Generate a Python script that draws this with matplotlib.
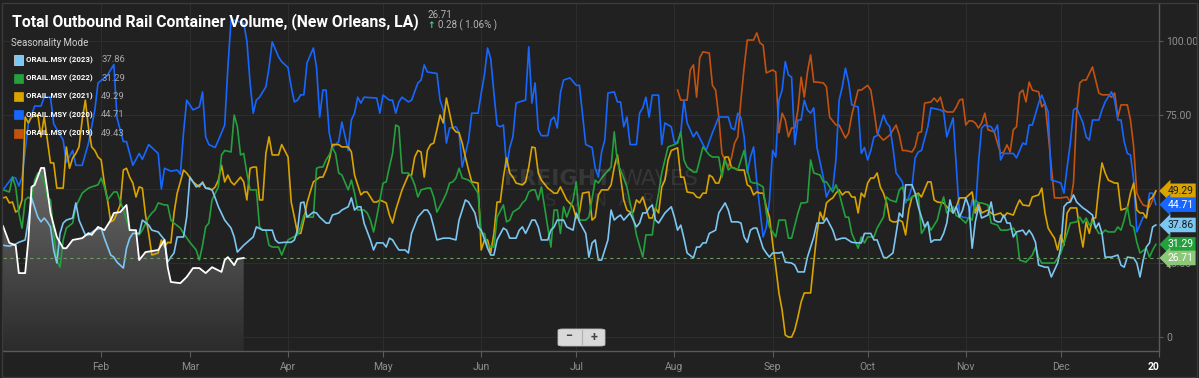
import numpy as np
import matplotlib
matplotlib.use("Agg")
import matplotlib.pyplot as plt
from matplotlib.patches import Rectangle, FancyBboxPatch, Polygon
from matplotlib.colors import LinearSegmentedColormap

plt.rcParams['font.family'] = ['Roboto', 'DejaVu Sans']

# (day of year, value)
s2019 = [(213,83.4),(214,80),(216,80),(217,90.2),(218,91.9),(219,81),(220,94.3),(221,96.3),(223,95.9),(224,85),(225,83.4),(226,74.3),(227,62),(229,57.4),(230,60.5),(231,65.5),(232,67.6),(233,80),(234,91),(235,100.3),(237,100.3),(238,102.7),(239,99.3),(240,98.6),(241,89.2),(243,90.2),(244,89.5),(245,69),(246,75.6),(247,73.3),(248,67.6),(249,70.6),(250,70.6),(251,76.7),(252,87.8),(253,81),(254,89.5),(255,95.3),(256,86.1),(257,86.1),(259,85.8),(260,84.5),(261,74.3),(263,71.6),(264,71.6),(266,67.2),(267,68.9),(268,75),(270,83.4),(271,83.4),(273,85),(274,83.4),(275,76.7),(276,69),(277,67.6),(278,66.5),(280,68.2),(282,71.6),(283,68.2),(284,63),(285,63),(287,62.5),(288,64.2),(289,69),(290,69.3),(291,79),(293,79.4),(294,80.7),(295,79.4),(296,81),(297,76.7),(298,76),(300,76),(301,77.7),(302,80),(303,80.4),(304,71.6),(305,73),(306,73),(307,72.3),(308,70.6),(309,72.3),(310,75.6),(311,70),(313,69.3),(314,65.5),(315,62),(316,62.5),(317,64.9),(318,62.5),(319,70),(320,71),(321,82.4),(322,83.4),(323,79.4),(324,86.1),(325,83.4),(327,82.8),(328,77.7),(329,79),(330,68.9),(331,57.4),(332,47),(334,47),(336,47.3),(337,45.6),(338,52),(339,75.6),(340,85.8),(341,86.8),(342,86.8),(344,91.2),(345,86.8),(346,82.4),(347,81.8),(349,81.8),(350,81),(351,82.4),(352,74.3),(353,78.4),(355,78.4),(356,73.3),(357,64.2),(358,48.6),(359,46.3),(360,44.6),(362,43.9),(363,46.3),(364,49.43)]

s2020 = [(0,49.7),(3,54),(4,53.7),(5,51),(6,54),(8,72),(10,78),(12,78),(13,81),(15,81),(16,72),(19,66.5),(20,59),(22,63),(23,58),(25,58),(27,65.5),(29,76.7),(30,85.8),(32,87.5),(33,88.5),(35,92),(36,74),(38,66),(39,66),(41,58),(43,62),(44,60),(46,65),(49,62),(50,50),(51,57),(53,56),(55,56.4),(56,55),(57,69),(58,80),(60,76.7),(62,77.7),(63,82.8),(64,67.6),(65,65),(67,64),(69,69),(70,71.6),(71,91),(72,107),(73,107),(76,106),(77,100),(78,86),(79,75.6),(80,80),(81,81),(83,84.5),(84,91),(85,99.7),(87,94.6),(88,93),(90,91),(91,84.5),(92,79.4),(93,80),(94,81.8),(95,81.8),(96,92.6),(98,97.6),(99,91),(100,74.3),(101,83.4),(102,83.4),(103,69),(104,64),(106,66),(107,72.6),(109,63),(110,73.3),(111,75.6),(112,81),(113,79),(114,81),(118,80.7),(119,75.6),(120,81.7),(122,80),(123,80),(124,75.6),(125,79.4),(126,81),(128,79.4),(129,80),(131,85.8),(132,86.8),(133,91.9),(134,89.5),(137,89),(138,80),(139,76.7),(140,65.5),(141,70.6),(143,71),(144,69),(145,57.4),(147,66.5),(148,75.6),(150,75.6),(151,82.4),(152,88.5),(153,97.6),(154,94),(155,82.4),(156,71.6),(157,71),(158,71.6),(159,57.4),(160,64),(161,67.6),(162,79),(163,79.4),(165,80),(166,98),(167,79),(168,85.8),(169,70),(170,68),(172,68),(173,73.3),(174,74.3),(175,70.6),(176,82.4),(177,86.8),(179,87.5),(181,85),(182,85),(184,65),(186,64),(187,57),(188,54),(189,62.5),(190,66.5),(191,82.4),(193,82.8),(194,79.4),(195,79.4),(196,71),(197,74.3),(198,65),(200,65),(201,75.6),(202,77.4),(203,81),(204,74.3),(205,81.7),(207,81.7),(208,65),(209,72.3),(211,71),(212,65.5),(213,66),(214,69),(215,80),(216,72.3),(218,67.6),(219,69.3),(220,67.2),(222,63),(224,69),(226,74.3),(229,74.3),(230,70.6),(231,70),(232,75.6),(233,74),(234,67.6),(235,55.4),(236,60.8),(237,64.2),(238,52.4),(239,43),(240,33.8),(241,37),(242,46),(243,63),(244,60.8),(245,80),(246,83.4),(247,93),(248,88.5),(249,87.8),(250,65),(251,73.3),(252,73.3),(253,80),(254,76.7),(255,75.6),(256,77.4),(257,64),(259,54),(260,47.3),(261,49.7),(262,50.3),(263,60),(264,80),(265,84.5),(266,90.8),(267,86),(268,78.4),(270,77.7),(271,62),(272,64),(273,59.8),(274,63),(275,67.6),(276,68),(278,75),(279,72.3),(280,71),(281,64),(282,55.4),(284,52.4),(285,45.3),(286,47.3),(287,50.7),(288,60.5),(289,62.5),(290,63),(292,71),(293,77.4),(296,76.7),(297,76),(298,67.6),(300,74),(301,57.4),(302,41.2),(303,40.5),(305,40.2),(306,46.3),(307,41.9),(308,58.8),(309,70.6),(310,71.6),(312,71),(313,69.3),(314,71.6),(315,59.8),(316,62),(319,62),(320,60.5),(322,65.5),(323,65),(324,71.6),(325,71.6),(327,79),(328,81.7),(330,76),(331,53),(333,52.4),(334,52),(335,48.6),(336,57.4),(337,65.5),(338,76.7),(339,77.4),(341,72.3),(342,67.6),(343,66.5),(344,73.3),(346,73.3),(347,76.7),(348,79.4),(350,82.8),(351,80),(352,73.3),(353,73.3),(354,66),(355,62),(356,61.5),(357,53),(358,35.5),(360,40.5),(361,40.5),(362,48.6),(363,48.6),(364,44.71)]

s2021 = [(0,47),(1,47.3),(2,45.3),(3,45.6),(4,42.2),(5,42.9),(6,46.3),(7,74.3),(8,72.3),(9,74.3),(11,75),(12,67.6),(13,74.3),(14,66.5),(15,58.8),(16,58.8),(17,50.3),(19,50.3),(20,64.2),(21,57),(22,60.5),(23,62),(24,64.2),(25,73.3),(26,80),(27,70.6),(28,64.2),(29,63),(30,60.8),(31,59.8),(32,52),(33,46.3),(34,38.9),(35,39.5),(36,41.9),(37,44.6),(38,56.4),(39,57),(40,54),(41,52),(42,47.3),(43,50.7),(44,50.3),(45,41.2),(46,35),(47,27.7),(49,28.4),(50,32.8),(51,30.4),(52,32),(53,31.8),(54,41.9),(55,48.6),(56,52.4),(57,56.4),(58,55.4),(60,52.4),(62,50.7),(63,52.4),(64,50.3),(65,50.3),(66,49.7),(67,50.7),(68,53),(69,58),(70,52.4),(71,54.7),(72,52.4),(73,51.4),(75,54),(76,52.4),(77,46.3),(78,57),(79,57.4),(80,57.4),(81,46.3),(82,46.3),(83,62),(84,67.6),(85,61.5),(87,61.5),(88,65),(90,60.8),(91,45.6),(92,40.5),(93,35),(94,35),(95,39.5),(96,45.3),(97,49),(98,52.4),(100,54),(101,54),(102,56.4),(103,59.8),(104,65),(106,65),(107,64.2),(109,64.2),(110,62.5),(111,54.7),(112,51.4),(113,48),(114,49),(115,49),(116,47.3),(117,45.6),(118,45.6),(119,46.3),(121,45.3),(122,41.2),(123,38.5),(124,42.9),(125,46.3),(126,49.7),(128,54.7),(129,54.7),(130,60.8),(131,63),(132,62.5),(133,54),(134,63),(135,65),(136,65.5),(137,70),(138,75),(139,72.3),(140,80.7),(141,75.6),(142,70.6),(143,69.3),(144,69),(145,65.5),(146,60.8),(147,56.4),(148,52.4),(150,52),(151,29.4),(152,32.8),(153,32.8),(154,28.4),(155,35),(156,45.6),(157,45.6),(158,54),(159,60.5),(160,55.4),(161,54),(162,52),(164,51.4),(165,52.4),(166,57.4),(167,64.2),(168,63.9),(169,55.4),(170,53),(172,50.3),(174,48.6),(175,48.6),(176,50.7),(178,46.3),(180,44),(181,40.2),(182,42),(183,48.6),(185,49),(186,39.5),(187,40.5),(188,48),(189,49.7),(191,49.7),(192,51.4),(193,57.4),(194,61.5),(195,54),(196,46.3),(197,42.9),(198,42.2),(199,42.2),(200,46.3),(201,45.3),(202,47.3),(204,40.2),(205,40.2),(206,43.6),(207,41.9),(208,50.7),(209,53),(210,59.8),(211,63),(213,63.9),(214,54),(215,54),(216,49),(218,48.6),(219,47.3),(220,47),(221,48.6),(222,48.6),(223,54.7),(224,54),(225,52),(226,52),(227,55.4),(228,60.8),(229,60.8),(230,57.4),(231,57),(232,56.4),(234,56.4),(235,51.4),(236,50.7),(237,48),(238,49),(239,48.6),(240,48.6),(241,44),(242,40.5),(243,31.8),(244,23.6),(245,14.9),(246,9.1),(247,0.7),(248,0),(249,0),(250,2.4),(251,6.8),(252,11.8),(253,14.9),(255,14.9),(256,25.3),(257,35),(258,42.2),(259,39.5),(260,45.3),(261,46.3),(262,47),(263,48.6),(264,49.7),(265,48),(266,49),(267,49),(268,47.3),(269,47.3),(270,41.9),(271,48.6),(272,47.3),(273,52),(274,53.7),(275,53.7),(276,55.4),(277,50.7),(278,48.6),(279,45.3),(280,39.5),(281,38.9),(282,38.9),(283,39.5),(284,38.9),(285,34.5),(286,42.9),(287,47.3),(289,48.6),(290,47.3),(292,52.4),(293,52.4),(294,46.3),(295,45.6),(297,45.3),(298,44),(300,41.9),(301,44),(302,47),(304,47),(306,49),(307,41.9),(308,45.3),(309,41.9),(311,42.9),(312,41.9),(313,41.2),(315,41.9),(316,40.5),(317,41.9),(319,41.2),(320,44),(321,46.3),(322,44.6),(324,44.3),(325,47.3),(327,48),(328,50.3),(329,41.9),(330,36.8),(331,35),(332,33.4),(333,29.4),(334,34.5),(335,31),(336,41.9),(337,43.6),(339,43.6),(340,36.1),(341,30.4),(342,38.9),(343,35),(344,40.2),(345,40.2),(346,50.7),(347,58.8),(348,55.4),(349,53),(351,52),(352,52),(353,42.9),(355,43.6),(356,48.6),(357,52),(358,42.9),(359,41.9),(360,41.9),(361,40.2),(362,46.3),(363,47.3),(364,49.29)]

s2022 = [(0,49.7),(2,49),(3,54),(4,50.7),(5,41.9),(6,36.8),(7,46.3),(8,47.3),(9,46.3),(10,53),(11,55.4),(12,54.7),(13,52.4),(14,47.3),(15,46.3),(16,35),(17,26),(18,23.6),(19,32.8),(20,36.8),(22,38.5),(23,44),(25,48.6),(27,50.3),(28,50.7),(30,51.4),(31,53.7),(32,50.7),(33,46.3),(35,49),(36,49),(38,42.9),(39,39.5),(40,36.1),(41,36.1),(43,34.5),(44,36.1),(46,40.5),(47,41.9),(48,42.9),(49,45.3),(51,44.6),(52,44.6),(53,39.5),(54,38.5),(56,36.8),(57,35),(59,32),(61,29.4),(62,26),(63,31),(64,37.2),(65,38.5),(66,46.3),(68,50.7),(69,61.5),(70,63),(72,62.5),(73,75),(74,71),(75,61.5),(76,62),(77,55.4),(78,49.7),(80,49.7),(81,37.2),(82,36.1),(83,36.1),(84,31),(85,30.4),(87,30.4),(88,27.7),(89,30.4),(90,32.8),(91,33.4),(93,34.5),(94,37.2),(95,41.2),(96,40.5),(98,40.5),(99,57),(100,57.4),(101,57.4),(102,59.8),(103,61.5),(104,63.9),(105,62),(106,55.4),(107,54.7),(109,49.7),(110,53),(111,48.6),(112,42.9),(114,42.9),(115,41.9),(116,39.5),(117,35.5),(118,40.5),(120,52),(121,52.4),(122,57.4),(123,62),(124,71.6),(125,71),(126,55.4),(128,55.4),(129,54),(130,51.4),(131,47.3),(132,49.7),(134,50.3),(135,50.3),(136,47.3),(137,42.2),(139,46.3),(140,48.6),(141,52),(142,52.4),(143,53.7),(144,57),(145,53.7),(147,53),(148,52),(150,48.6),(151,35),(152,35),(153,31),(155,30.4),(156,40.5),(158,44.6),(159,38.9),(160,39.5),(161,42.2),(162,42.9),(163,43.6),(164,45.3),(165,46.3),(166,49),(167,49.7),(168,49.7),(169,46.3),(170,50.7),(171,44),(172,37.2),(173,30.4),(174,42.9),(175,42.9),(176,35),(177,44),(178,40.5),(180,46.3),(181,52.4),(182,39.5),(183,39.5),(184,39.5),(185,40.5),(187,53),(188,52),(189,53.7),(192,57.4),(193,69.3),(194,58.8),(195,56.4),(197,50.7),(198,45.3),(199,40.5),(200,34.5),(202,27),(203,34.5),(205,34.5),(206,42.9),(207,48.6),(208,55.4),(210,64.2),(212,65),(213,65.5),(214,69.3),(215,59.8),(216,57.4),(218,55.7),(219,55.7),(221,64.2),(223,61.5),(224,60.8),(226,60.8),(227,54),(228,59.8),(229,56.4),(230,57.4),(232,56.4),(234,63),(235,56.4),(236,52.4),(237,52),(238,52),(240,50.7),(241,41.9),(242,37.2),(244,33.8),(245,39.5),(247,39.5),(248,33.4),(249,33.4),(251,41.9),(252,45.3),(253,45.3),(254,45.6),(255,59.8),(256,55.4),(258,54.7),(259,52.4),(260,52.4),(262,49),(263,51.4),(264,48.6),(266,40.5),(267,40.5),(268,35),(270,30),(271,33.8),(272,31.8),(273,33.8),(275,33.8),(276,36.8),(278,40.5),(279,47.3),(280,46.3),(282,45.6),(283,49.7),(284,50.7),(285,46.3),(286,46.3),(287,47.3),(289,48),(290,35),(292,38.5),(293,36.1),(295,39.5),(296,44),(297,47.3),(298,41.9),(300,44),(301,41),(302,40.5),(304,38.5),(305,40.5),(306,39.5),(307,46.3),(308,45.3),(309,45.3),(311,44.6),(312,38.5),(314,37.8),(315,36.1),(317,36.1),(319,36.8),(320,35),(321,26),(323,25.3),(325,27.7),(326,30.4),(327,26.7),(328,25),(330,25),(332,25),(334,28.4),(336,35),(337,38.5),(339,38.9),(340,40.5),(341,38.5),(342,40.2),(343,37.8),(344,38.9),(346,35),(347,35),(348,36.1),(349,35.5),(351,35.5),(352,37.2),(353,36.1),(354,39.5),(355,44),(356,37.8),(357,37.2),(358,32),(359,28.4),(361,30),(362,27),(363,29.4),(364,31.29)]

s2023 = [(0,31),(2,30.7),(4,31.4),(5,32),(7,32.8),(8,39.5),(9,47),(11,40.5),(12,38.9),(13,40.2),(14,38.9),(15,37.2),(16,29.4),(17,25),(18,35),(19,38.5),(20,39.5),(22,40.2),(23,45.3),(24,39.5),(26,34.5),(27,34.5),(29,36.1),(31,36.8),(32,33.4),(34,27.7),(35,27),(36,25.3),(38,23.3),(39,30),(40,33.4),(41,35),(43,35),(44,39.5),(46,37.8),(47,36.1),(49,35.5),(51,32.8),(52,25.3),(53,27),(54,28.4),(55,33.8),(57,33.8),(58,40.5),(59,54),(60,52.4),(61,50.7),(63,52),(64,50.3),(66,49.7),(67,47),(68,44),(70,39.5),(72,36.8),(73,33.8),(74,28.7),(76,31),(79,33.8),(80,37.2),(82,36.1),(83,36.1),(85,36.1),(86,32.8),(87,31.8),(89,32),(91,32),(92,32.8),(93,36.1),(94,45.3),(95,45.6),(96,40.5),(98,42.2),(99,41.9),(100,40.5),(102,38.5),(103,38.5),(104,41.2),(106,41.9),(107,42.9),(109,44),(110,47),(111,42.9),(112,44),(113,44),(114,38.5),(116,32.8),(117,29.4),(118,31.8),(120,31.8),(121,30.4),(122,33.4),(123,32.8),(124,31),(125,29.4),(127,29.4),(128,28.4),(129,35),(131,40.5),(133,42.9),(134,42.9),(135,41.2),(136,37.2),(137,32.8),(139,33.4),(141,33.4),(143,32.8),(144,39.5),(146,46.3),(147,45.6),(149,41.9),(150,37.2),(151,36.1),(153,30),(154,27.7),(155,27.7),(156,32.8),(158,36.8),(159,36.1),(160,33.4),(162,33.4),(163,36.1),(164,37.2),(165,35),(166,37.2),(167,39.5),(168,39.5),(169,37.2),(170,32.8),(172,32.8),(173,36.1),(174,37.2),(175,39.5),(177,39.5),(178,37.2),(180,36.1),(181,41.9),(182,38.9),(184,35),(185,27),(186,31.8),(187,32.8),(188,26),(189,26),(191,32.8),(192,42.9),(193,39.5),(194,40.5),(195,41.2),(196,39.5),(198,41.9),(200,37.2),(201,38.5),(202,41.9),(203,41.9),(204,43.6),(205,44.6),(206,39.5),(207,38.5),(209,41.9),(211,44),(212,40.5),(213,36.1),(214,37.8),(215,33.4),(216,28.4),(218,26.7),(219,30.4),(220,30.4),(221,31.8),(222,31.8),(223,35),(225,36.1),(226,41.9),(228,45.3),(229,42.9),(230,38.9),(232,38.9),(233,38.5),(234,33.8),(235,32),(236,36.1),(237,36.8),(238,36.8),(240,30),(241,28.4),(242,27),(243,28.4),(245,28.4),(246,28.7),(247,25.3),(249,25),(250,24.3),(251,22),(253,22),(254,27),(255,30.4),(256,33.8),(257,38.5),(259,38.5),(260,40.2),(262,36.1),(263,32.8),(265,33.4),(266,33.4),(268,32),(270,31.8),(271,31.8),(272,35),(274,35),(275,32.8),(276,32.8),(278,27),(279,26.7),(281,28.4),(282,35),(283,41.9),(284,40.5),(285,51.4),(287,51.4),(288,48.6),(289,44),(290,40.5),(291,37.2),(292,38.9),(293,32),(294,32.8),(296,32.8),(297,35),(298,38.5),(299,46.3),(300,41.9),(301,44),(302,40.5),(303,42.9),(304,47),(305,44),(306,30),(307,38.9),(308,44),(309,40.2),(311,41.2),(312,45.6),(313,39.5),(314,38.9),(315,38.9),(316,41.2),(317,38.5),(318,38.5),(319,33.8),(320,35.5),(322,36.1),(323,34.5),(324,36.1),(325,34.5),(326,32),(327,24.3),(329,23.6),(330,23.6),(331,20.3),(333,25),(334,30.4),(335,44),(336,45.3),(337,45.6),(338,48),(339,45.6),(341,43.6),(342,42.9),(344,41.2),(345,36.8),(346,38.5),(347,35),(348,27),(350,27),(352,27.7),(353,24.3),(354,23.6),(355,27),(357,26.7),(358,25),(359,20.3),(360,26),(361,30.4),(362,31.8),(363,37.2),(364,37.86)]

s2024 = [(0,37.5),(2,31.8),(4,31),(5,21.6),(7,21.6),(8,32.8),(9,50.7),(10,51.4),(12,57.1),(13,57.1),(14,49.7),(15,41.9),(17,33.8),(19,30),(20,30),(22,32.8),(25,33.4),(27,35.1),(28,34.5),(30,37.2),(32,36.1),(34,39.5),(35,41.9),(37,42.2),(39,44.6),(40,36.1),(42,36.1),(43,26),(45,28.7),(49,29.4),(51,32.8),(52,23.6),(53,18.6),(56,18.2),(58,20.3),(60,23.3),(62,23.3),(64,21.6),(66,23.6),(69,22),(70,26),(71,27),(73,24.3),(74,26.4),(76,26.71)]

legend_names = ["ORAIL.MSY (2023)", "ORAIL.MSY (2022)", "ORAIL.MSY (2021)", "ORAIL.MSY (2020)", "ORAIL.MSY (2019)"]
legend_values = ["37.86", "31.29", "49.29", "44.71", "49.43"]
current_value = 26.71

month_days = [31, 59, 90, 120, 151, 181, 212, 243, 273, 304, 334, 365]
month_labels = ["Feb", "Mar", "Apr", "May", "Jun", "Jul", "Aug", "Sep", "Oct", "Nov", "Dec", "20"]
y_ticks = [0, 25, 50, 75, 100]
y_tick_labels = ["0", "25.00", "50.00", "75.00", "100.00"]

BG = "#212121"
c2019, c2020, c2021, c2022, c2023 = "#c4520f", "#1767ff", "#d9a300", "#24a03d", "#7cc6f2"

W, H = 1199, 378
fig = plt.figure(figsize=(W / 100, H / 100), dpi=100, facecolor=BG)


def px(x, y):
    return x / W, 1 - y / H


ax = fig.add_axes([3 / W, 27 / H, 1156 / W, 348 / H], facecolor=BG)
ymin, ymax = -4.7, 112.8

# grid
for d in month_days[:-1]:
    ax.axvline(d, color="#2d2d2d", lw=0.8, zorder=0)
for v in y_ticks:
    ax.axhline(v, color="#2d2d2d", lw=0.8, zorder=0)

# current-year area with gradient
d24, v24 = zip(*s2024)
verts = [(d24[0], ymin)] + list(zip(d24, v24)) + [(d24[-1], ymin)]
poly = Polygon(verts, closed=True, fc="none", ec="none")
ax.add_patch(poly)
grad = np.linspace(0, 1, 256).reshape(-1, 1)
cmap = LinearSegmentedColormap.from_list("g", ["#2b2b2b", "#6a6a6a"])
im = ax.imshow(grad, extent=(d24[0], d24[-1], ymin, max(v24)), origin="lower",
               aspect="auto", cmap=cmap, zorder=1)
im.set_clip_path(poly)

for pts, col in [(s2019, c2019), (s2020, c2020), (s2021, c2021), (s2022, c2022), (s2023, c2023)]:
    d, v = zip(*pts)
    ax.plot(d, v, color=col, lw=1.2, zorder=2)
ax.plot(d24, v24, color="white", lw=1.3, zorder=3)

ax.axhline(current_value, color="#6c9a5c", lw=0.8, ls=(0, (3, 3)), zorder=2)

ax.set_xlim(0, 365)
ax.set_ylim(ymin, ymax)

# axes styling
for s in ["top", "left"]:
    ax.spines[s].set_visible(False)
for s in ["bottom", "right"]:
    ax.spines[s].set_color("#5a5a5a")
    ax.spines[s].set_linewidth(1.0)
ax.yaxis.tick_right()
ax.set_yticks(y_ticks)
ax.set_yticklabels(y_tick_labels)
ax.set_xticks(month_days)
ax.set_xticklabels(month_labels)
ax.tick_params(axis="x", colors="#5a5a5a", labelcolor="#8f8f8f", labelsize=7.5, length=4, pad=4)
ax.tick_params(axis="y", colors="#5a5a5a", labelcolor="#8f8f8f", labelsize=7.5, length=3, pad=2)
lab = ax.get_xticklabels()[-1]
lab.set_color("white")
lab.set_fontweight("bold")
lab.set_ha("right")

# value tags on the right edge
tags = [(49.43, "49.43", c2019, "white"), (49.29, "49.29", c2021, "#1b1b1b"),
        (44.71, "44.71", c2020, "white"), (37.86, "37.86", c2023, "#1b1b1b"),
        (31.29, "31.29", c2022, "white"), (current_value, "26.71", "#8cc77a", "white")]
for v, t, fc, tc in tags:
    ax.annotate(t, xy=(1, v), xycoords=("axes fraction", "data"), xytext=(6, 0),
                textcoords="offset points", ha="left", va="center", fontsize=7.5,
                color=tc, annotation_clip=False, zorder=10,
                bbox=dict(boxstyle="larrow,pad=0.22", fc=fc, ec="none"))

# watermark
fig.text(*px(504, 179), "FREIGHT", fontsize=16, fontweight="bold", color="white",
         alpha=0.10, ha="left", va="center", family=["DejaVu Sans"])
fig.text(*px(620, 179), "WAVES", fontsize=16, color="white", alpha=0.09, ha="left", va="center",
         family=["DejaVu Sans"])
fig.text(*px(600, 201), "S  O  N  A  R", fontsize=13, color="white", alpha=0.07, ha="center", va="center",
         family=["DejaVu Sans"])

# titles
fig.text(*px(12, 22), "Total Outbound Rail Container Volume, (New Orleans, LA)", fontsize=11.3,
         fontweight="bold", color="white", ha="left", va="center")
fig.text(*px(428, 15), "26.71", fontsize=7, color="#b5b5b5", ha="left", va="center")
fig.text(*px(431, 25.5), "\u2191", fontsize=6.5, color="#4cd08a", ha="center", va="center",
         family=["DejaVu Sans"], fontweight="bold")
fig.text(*px(438, 25), "0.28 ( 1.06% )", fontsize=7, color="#b5b5b5", ha="left", va="center")
fig.text(*px(11, 43), "Seasonality Mode", fontsize=7, color="#d0d0d0", ha="left", va="center")

# legend
leg_colors = [c2023, c2022, c2021, c2020, c2019]
for i, (name, val, col) in enumerate(zip(legend_names, legend_values, leg_colors)):
    y = 60 + i * 18.3
    x0, y0 = px(14, y + 4.5)
    fig.patches.append(Rectangle((x0, y0), 9 / W, 9 / H, transform=fig.transFigure,
                                 fc=col, ec="#dddddd" if i == 0 else col, lw=0.5))
    fig.text(*px(26, y), name, fontsize=5.7, fontweight="bold", color="white", ha="left", va="center")
    fig.text(*px(125, y), val, fontsize=6.8, color="#a8a8a8", ha="right", va="center")

# zoom buttons
bx, by = px(558, 346)
fig.patches.append(FancyBboxPatch((bx, by), 47 / W, 17 / H, boxstyle="round,pad=0,rounding_size=0.004",
                                  transform=fig.transFigure, fc="#d9d9d9", ec="#bdbdbd", lw=0.6))
fig.lines.append(plt.Line2D([581.5 / W, 581.5 / W], [1 - 344 / H, 1 - 330 / H], transform=fig.transFigure,
                            color="#b0b0b0", lw=0.8))
fig.text(*px(569, 337), "\u2212", fontsize=9, fontweight="bold", color="#444444", ha="center", va="center")
fig.text(*px(594, 337), "+", fontsize=9, fontweight="bold", color="#444444", ha="center", va="center")

# outer frame
fig.patches.append(Rectangle((1.5 / W, 1.5 / H), 1195.5 / W, 374 / H, transform=fig.transFigure,
                             fc="none", ec="#3a3a3a", lw=1.0))

fig.savefig("out.png", dpi=100, facecolor=BG)
